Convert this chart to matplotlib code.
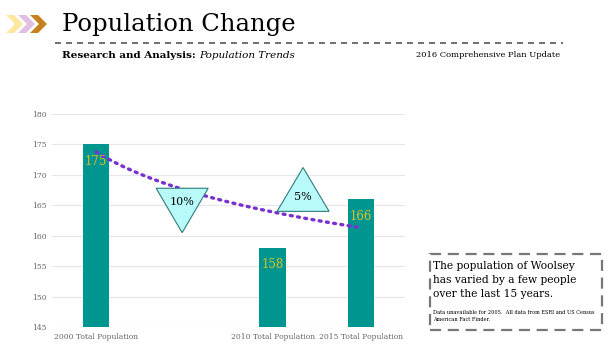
import numpy as np
import matplotlib.pyplot as plt
from matplotlib.patches import Polygon, Rectangle

categories = ["2000 Total Population", "", "2010 Total Population", "2015 Total Population"]
values = [175, None, 158, 166]
changes = ["10%", "5%"]
yticks = [145, 150, 155, 160, 165, 170, 175, 180]

fig = plt.figure(figsize=(6.16, 3.45), dpi=100)
fig.patch.set_facecolor("white")
serif = ["DejaVu Serif"]

ax = fig.add_axes([52/616, 1-327/345, (405-52)/616, (327-114)/345])
x = np.arange(len(categories))
bx = [i for i, v in enumerate(values) if v is not None]
bv = [v for v in values if v is not None]
ax.bar(bx, [v - 145 for v in bv], bottom=145, width=0.3, color="#009690", zorder=2)
for i, v in zip(bx, bv):
    ax.text(i, v - 2.8, str(v), ha="center", va="center", color="#e0c020",
            fontsize=8.5, family=serif, zorder=4)

# logarithmic trendline fitted to data
lx = np.log(np.array(bx) + 1.0)
b, a = np.polyfit(lx, bv, 1)
tx = np.linspace(0, 3, 100)
ax.plot(tx, a + b * np.log(tx + 1), color="#7a30d0", lw=2.4, ls=(0, (0.6, 1.6)),
        dash_capstyle="round", zorder=3)

ax.set_xlim(-0.5, 3.5)
ax.set_ylim(145, 180)
ax.set_yticks(yticks)
ax.set_xticks(x)
ax.set_xticklabels(categories)
ax.tick_params(length=0, labelsize=5.5, labelcolor="#666666", pad=4)
for lab in ax.get_xticklabels() + ax.get_yticklabels():
    lab.set_family(serif)
ax.grid(axis="y", color="#e6e6e6", lw=0.8, zorder=0)
for s in ax.spines.values():
    s.set_visible(False)

# change triangles (annotations)
tri_fc, tri_ec = "#b8fafa", "#2e7d7a"
down = Polygon([(0.68, 167.8), (1.27, 167.8), (0.975, 160.5)], closed=True,
               fc=tri_fc, ec=tri_ec, lw=0.8, zorder=5)
up = Polygon([(2.05, 164.0), (2.64, 164.0), (2.345, 171.2)], closed=True,
             fc=tri_fc, ec=tri_ec, lw=0.8, zorder=5)
ax.add_patch(down)
ax.add_patch(up)
ax.text(0.975, 165.6, changes[0], ha="center", va="center", fontsize=8, family=serif, zorder=6)
ax.text(2.345, 166.3, changes[1], ha="center", va="center", fontsize=8, family=serif, zorder=6)

# header
fig.text(62/616, 1-24/345, "Population Change", fontsize=17.5, family=serif, va="center", ha="left")
chev_colors = ["#fde7a0", "#e2bfe0", "#c8801e"]
for k, c in enumerate(chev_colors):
    x0 = 6 + k * 12
    pts = [(x0, 15), (x0 + 8, 15), (x0 + 17, 24), (x0 + 8, 33), (x0, 33), (x0 + 9, 24)]
    fig.patches.append(Polygon([(px/616, 1-py/345) for px, py in pts], closed=True,
                               transform=fig.transFigure, fc=c, ec="none"))
fig.add_artist(plt.Line2D([55/616, 563/616], [1-42.5/345]*2, color="#555555", lw=1.2,
                          ls=(0, (3.6, 3.0)), transform=fig.transFigure))
fig.text(62/616, 1-55/345, "Research and Analysis:", fontsize=7.5, fontweight="bold",
         family=serif, va="center")
fig.text(199/616, 1-55/345, "Population Trends", fontsize=7.5, style="italic",
         family=serif, va="center")
fig.text(560/616, 1-55/345, "2016 Comprehensive Plan Update", fontsize=6, family=serif,
         va="center", ha="right")

# note box
fig.patches.append(Rectangle((430/616, 1-330/345), (602-430)/616, (330-254)/345,
                             transform=fig.transFigure, fc="white", ec="#777777",
                             lw=1.6, ls=(0, (5, 3))))
fig.text(433/616, 1-280/345, "The population of Woolsey\nhas varied by a few people\nover the last 15 years.",
         fontsize=7.7, family=serif, va="center", ha="left", linespacing=1.55)
fig.text(433/616, 1-316/345, "Data unavailable for 2005.  All data from ESRI and US Census\nAmerican Fact Finder.",
         fontsize=3.6, family=serif, va="center", ha="left", linespacing=1.3)

fig.savefig("out.png", dpi=100)
